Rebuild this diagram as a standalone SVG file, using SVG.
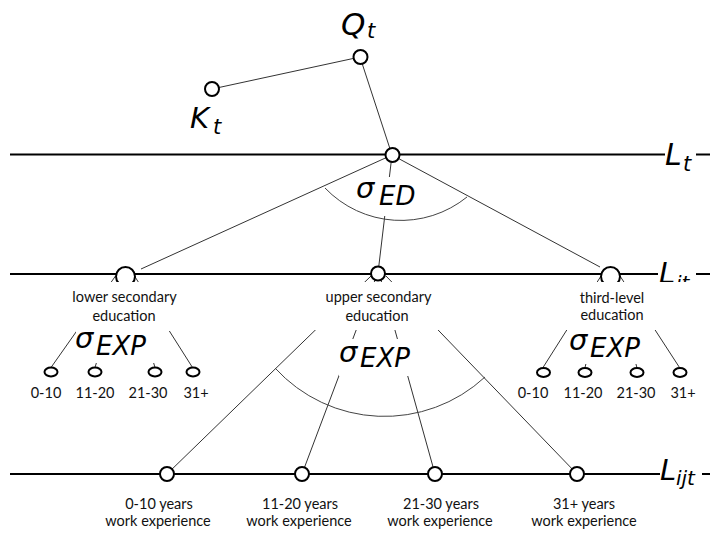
<svg xmlns="http://www.w3.org/2000/svg" width="710" height="533" viewBox="0 0 710 533">
<style>
.axis{stroke:#000;stroke-width:2;fill:none}
.con{stroke:#333;stroke-width:1;fill:none}
.arc{stroke:#444;stroke-width:1;fill:none}
.node{fill:#fff;stroke:#000;stroke-width:2}
.bg{fill:#fff;stroke:none}
.math{font-family:"DejaVu Sans",sans-serif;font-style:oblique;fill:#000}
.sig{font-family:"DejaVu Sans",sans-serif;font-style:oblique;fill:#000;font-size:29px}
.sub{font-family:"DejaVu Sans",sans-serif;font-style:oblique;fill:#000;font-size:26px}
.lbl{font-family:Lato,"Open Sans",sans-serif;font-size:14.5px;fill:#111;text-anchor:middle}
</style>
<rect width="710" height="533" fill="#fff"/>
<g id="axes">
<line class="axis" x1="10" y1="154.5" x2="665" y2="154.5"/>
<line class="axis" x1="696" y1="154.5" x2="710" y2="154.5"/>
<text class="math" x="665" y="165" font-size="30">L<tspan font-size="21" x="683" y="171">t</tspan></text>
<line class="axis" x1="10" y1="274" x2="658" y2="274"/>
<line class="axis" x1="696" y1="274" x2="710" y2="274"/>
<text class="math" x="659" y="283" font-size="29">L<tspan font-size="20" x="676" y="290">it</tspan></text>
<line class="axis" x1="10" y1="474" x2="660" y2="474"/>
<line class="axis" x1="702" y1="474" x2="710" y2="474"/>
<text class="math" x="660" y="480" font-size="29">L<tspan font-size="20" x="676" y="485">ijt</tspan></text>
</g>
<g id="connectors">
<line class="con" x1="212" y1="89" x2="360" y2="57"/>
<line class="con" x1="360" y1="57" x2="392" y2="155"/>
<line class="con" x1="392" y1="155" x2="141" y2="269"/>
<line class="con" x1="392" y1="155" x2="378" y2="273"/>
<line class="con" x1="392" y1="155" x2="600" y2="267"/>
<line class="con" x1="115.5" y1="276" x2="51" y2="367.5"/>
<line class="con" x1="120" y1="284" x2="95" y2="367.5"/>
<line class="con" x1="130" y1="284" x2="155" y2="367.5"/>
<line class="con" x1="134.5" y1="276" x2="192.5" y2="367.5"/>
<line class="con" x1="601" y1="276" x2="543" y2="367.5"/>
<line class="con" x1="606" y1="284" x2="585" y2="367.5"/>
<line class="con" x1="615" y1="284" x2="637" y2="368"/>
<line class="con" x1="620" y1="276" x2="679.5" y2="367.5"/>
<line class="con" x1="371" y1="276" x2="167" y2="474"/>
<line class="con" x1="375" y1="280" x2="302" y2="474"/>
<line class="con" x1="381" y1="280" x2="435" y2="474"/>
<line class="con" x1="386" y1="276" x2="577" y2="474"/>
</g>
<g id="node-Q">
<circle class="node" cx="360.5" cy="57" r="7"/>
<text class="math" x="341" y="35" font-size="31">Q<tspan font-size="21" x="367" y="38">t</tspan></text>
</g>
<g id="node-K">
<circle class="node" cx="212" cy="89" r="7"/>
<text class="math" x="190" y="128" font-size="29">K<tspan font-size="21" x="213" y="134">t</tspan></text>
</g>
<g id="node-Lt">
<circle class="node" cx="392.5" cy="155" r="7"/>
</g>
<g id="sigma-ED">
<rect class="bg" x="355" y="177" width="68" height="39"/>
<text class="sig" x="356" y="198" font-size="28">σ</text>
<text class="sub" x="379" y="205" font-size="25">ED</text>
<path class="arc" d="M325,188 A105,105 0 0 0 467,197"/>
</g>
<g id="node-lower">
<circle class="node" cx="125.5" cy="276.5" r="9.5"/>
<rect class="bg" x="62" y="282" width="128" height="49"/>
<text class="lbl" x="124.5" y="302">lower secondary</text>
<text class="lbl" x="124" y="321">education</text>
<rect class="bg" x="76" y="331" width="82" height="32"/>
<text class="sig" x="75" y="348">σ</text>
<text class="sub" x="96" y="355">EXP</text>
</g>
<g id="node-upper">
<circle class="node" cx="378" cy="273.5" r="7"/>
<rect class="bg" x="313" y="282" width="128" height="48"/>
<text class="lbl" x="378.5" y="302">upper secondary</text>
<text class="lbl" x="377" y="321">education</text>
</g>
<g id="sigma-EXP-upper">
<rect class="bg" x="339" y="339" width="80" height="37"/>
<text class="sig" x="339" y="362">σ</text>
<text class="sub" x="360" y="367">EXP</text>
<path class="arc" d="M275,368 A148,148 0 0 0 485,377"/>
</g>
<g id="node-third">
<circle class="node" cx="610.5" cy="276.5" r="9.5"/>
<rect class="bg" x="555" y="282" width="150" height="48"/>
<text class="lbl" x="612" y="303">third-level</text>
<text class="lbl" x="612" y="320">education</text>
<rect class="bg" x="568" y="330" width="84" height="34"/>
<text class="sig" x="569" y="350">σ</text>
<text class="sub" x="590" y="357">EXP</text>
</g>
<g id="exp-lower">
<ellipse class="node" cx="51" cy="372" rx="6.5" ry="4.5"/>
<ellipse class="node" cx="95" cy="372" rx="6.5" ry="4.5"/>
<ellipse class="node" cx="155" cy="372" rx="6.5" ry="4.5"/>
<ellipse class="node" cx="193" cy="372" rx="6.5" ry="4.5"/>
<text class="lbl" x="46" y="398">0-10</text>
<text class="lbl" x="95" y="398">11-20</text>
<text class="lbl" x="148" y="398">21-30</text>
<text class="lbl" x="196" y="398">31+</text>
</g>
<g id="exp-third">
<ellipse class="node" cx="543.5" cy="372.5" rx="6.5" ry="4.5"/>
<ellipse class="node" cx="585" cy="372.5" rx="6.5" ry="4.5"/>
<ellipse class="node" cx="637" cy="372.5" rx="6.5" ry="4.5"/>
<ellipse class="node" cx="680" cy="372.5" rx="6.5" ry="4.5"/>
<text class="lbl" x="533" y="398">0-10</text>
<text class="lbl" x="583" y="398">11-20</text>
<text class="lbl" x="636" y="398">21-30</text>
<text class="lbl" x="683" y="398">31+</text>
</g>
<g id="node-exp1">
<circle class="node" cx="167" cy="474" r="7"/>
<text class="lbl" x="159" y="509">0-10 years</text>
<text class="lbl" x="158" y="526">work experience</text>
</g>
<g id="node-exp2">
<circle class="node" cx="302" cy="474" r="7"/>
<text class="lbl" x="300" y="509">11-20 years</text>
<text class="lbl" x="299" y="526">work experience</text>
</g>
<g id="node-exp3">
<circle class="node" cx="435" cy="474" r="7"/>
<text class="lbl" x="441" y="509">21-30 years</text>
<text class="lbl" x="440" y="526">work experience</text>
</g>
<g id="node-exp4">
<circle class="node" cx="577" cy="474" r="7"/>
<text class="lbl" x="584" y="509">31+ years</text>
<text class="lbl" x="584" y="526">work experience</text>
</g>
</svg>
